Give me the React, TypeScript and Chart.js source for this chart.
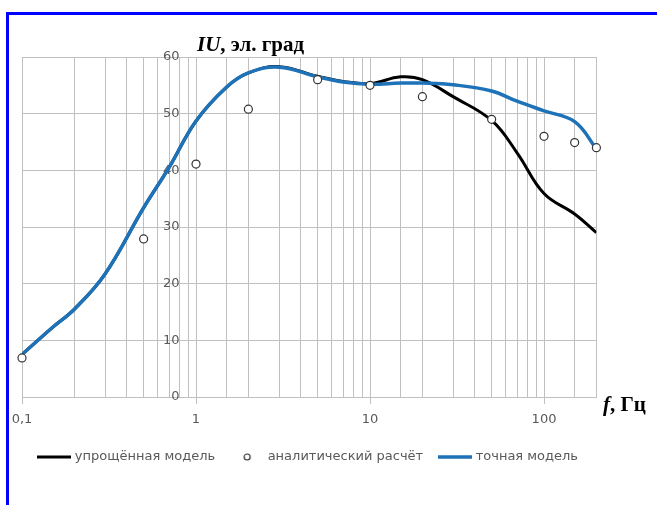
import React, { useEffect, useRef } from "react";
import { Chart, registerables } from "chart.js";

Chart.register(...registerables);

// ---- data ----
const freqs = [0.1, 0.15, 0.2, 0.3, 0.5, 0.7, 1, 1.5, 2, 3, 5, 7, 10, 15, 20, 30, 50, 70, 100, 150, 200];
const exactModel = [7.5, 12.3, 15.5, 21.7, 33.4, 40.5, 48.7, 54.7, 57.2, 58.2, 56.5, 55.6, 55.2, 55.4, 55.4, 55.1, 54, 52.2, 50.5, 48.6, 43.8];
const simplifiedModel = [7.5, 12.3, 15.5, 21.7, 33.4, 40.5, 48.7, 54.7, 57.2, 58.3, 56.6, 55.7, 55.3, 56.5, 56, 53, 48.8, 43.1, 35.9, 32.3, 29];
const analyticFreqs = [0.1, 0.5, 1, 2, 5, 10, 20, 50, 100, 150, 200];
const analyticValues = [6.9, 27.9, 41.1, 50.8, 56, 55, 53, 49, 46, 44.9, 44];
const legendLabels = ["упрощённая модель", "аналитический расчёт", "точная модель"];
const yTickValues = [0, 10, 20, 30, 40, 50, 60];

const BLUE = "#1E72B8";
const GRID = "#C0C0C0";
const TEXT = "#595959";
const SANS = "'DejaVu Sans', sans-serif";

function makeLineMarker(color: string, width: number) {
  const c = document.createElement("canvas");
  c.width = 34;
  c.height = 12;
  const ctx = c.getContext("2d")!;
  ctx.strokeStyle = color;
  ctx.lineWidth = width;
  ctx.beginPath();
  ctx.moveTo(0, 6);
  ctx.lineTo(34, 6);
  ctx.stroke();
  return c;
}

function makeCircleMarker() {
  const c = document.createElement("canvas");
  c.width = 34;
  c.height = 12;
  const ctx = c.getContext("2d")!;
  ctx.fillStyle = "#ffffff";
  ctx.strokeStyle = "#333333";
  ctx.lineWidth = 1.2;
  ctx.beginPath();
  ctx.arc(17, 6, 3, 0, Math.PI * 2);
  ctx.fill();
  ctx.stroke();
  return c;
}

function isDecade(v: number) {
  const l = Math.log10(v);
  return Math.abs(l - Math.round(l)) < 1e-9;
}

export default function App() {
  const canvasRef = useRef<HTMLCanvasElement>(null);

  useEffect(() => {
    const canvas = canvasRef.current!;
    const markers = [makeLineMarker("#000000", 3), makeCircleMarker(), makeLineMarker(BLUE, 3.5)];
    const chart = new Chart(canvas, {
      type: "line",
      data: {
        datasets: [
          {
            label: legendLabels[0],
            data: freqs.map((f, i) => ({ x: f, y: simplifiedModel[i] })),
            borderColor: "#000000",
            backgroundColor: "#000000",
            borderWidth: 3,
            pointRadius: 0,
            tension: 0.4,
            order: 3,
          },
          {
            label: legendLabels[1],
            data: analyticFreqs.map((f, i) => ({ x: f, y: analyticValues[i] })),
            showLine: false,
            borderColor: "#333333",
            backgroundColor: "#ffffff",
            pointRadius: 4,
            pointBorderWidth: 1.2,
            pointBackgroundColor: "#ffffff",
            pointBorderColor: "#333333",
            clip: false,
            order: 1,
          },
          {
            label: legendLabels[2],
            data: freqs.map((f, i) => ({ x: f, y: exactModel[i] })),
            borderColor: BLUE,
            backgroundColor: BLUE,
            borderWidth: 3.5,
            pointRadius: 0,
            tension: 0.4,
            order: 2,
          },
        ],
      },
      options: {
        responsive: false,
        animation: false,
        layout: { padding: { left: 22, right: 60.6, top: 57, bottom: 31.5 } },
        font: { family: SANS },
        scales: {
          x: {
            type: "logarithmic",
            min: 0.1,
            max: 200,
            afterFit: (scale: any) => {
              scale.height = 35.5;
            },
            border: { color: GRID, width: 1 },
            grid: {
              color: GRID,
              lineWidth: 1,
              tickLength: 7,
              tickColor: (ctx: any) => (ctx.tick && isDecade(ctx.tick.value) ? GRID : "rgba(0,0,0,0)"),
            },
            ticks: {
              autoSkip: false,
              maxRotation: 0,
              padding: 8,
              color: TEXT,
              font: { family: SANS, size: 13 },
              callback: (v: any) => (isDecade(Number(v)) ? String(Number(v)).replace(".", ",") : ""),
            },
          },
          y: {
            type: "linear",
            position: { x: 1 } as any,
            min: 0,
            max: 60,
            afterBuildTicks: (scale: any) => {
              scale.ticks = yTickValues.map((v) => ({ value: v }));
            },
            border: { color: GRID, width: 1 },
            grid: { color: GRID, lineWidth: 1, drawTicks: false },
            ticks: {
              padding: 16,
              color: TEXT,
              font: { family: SANS, size: 13 },
              // labels sit at the axis line; the two figure spaces keep them clear of it
              callback: (v: any) => `${v}\u2007\u2007`,
            },
          },
        },
        plugins: {
          title: { display: false },
          tooltip: { enabled: false },
          legend: {
            display: true,
            position: "bottom",
            labels: {
              usePointStyle: true,
              pointStyleWidth: 28,
              padding: 18,
              color: TEXT,
              font: { family: SANS, size: 13 },
              sort: (a: any, b: any) => a.datasetIndex - b.datasetIndex,
              generateLabels: (ch: any) => {
                const items = Chart.defaults.plugins.legend.labels.generateLabels(ch);
                return items.map((it: any) => ({ ...it, pointStyle: markers[it.datasetIndex] }));
              },
            },
          },
        },
      } as any,
    });
    return () => chart.destroy();
  }, []);

  const serif = "'Liberation Serif', 'Times New Roman', serif";
  return (
    <div style={{ position: "absolute", left: 0, top: 0, width: 657, height: 505, background: "#ffffff", overflow: "hidden" }}>
      <canvas ref={canvasRef} width={657} height={505} style={{ position: "absolute", left: 0, top: 0, width: 657, height: 505 }} />
      <div style={{ position: "absolute", left: 6, top: 12, width: 660, height: 500, borderLeft: "3px solid #0000FF", borderTop: "3px solid #0000FF", pointerEvents: "none" }} />
      <div style={{ position: "absolute", left: 197, top: 34, fontFamily: serif, fontWeight: "bold", fontSize: 21, lineHeight: "21px", whiteSpace: "nowrap", color: "#000" }}>
        <i>IU</i>, эл. град
      </div>
      <div style={{ position: "absolute", left: 603, top: 394, fontFamily: serif, fontWeight: "bold", fontSize: 21, lineHeight: "21px", whiteSpace: "nowrap", color: "#000" }}>
        <i>f</i>, Гц
      </div>
    </div>
  );
}
